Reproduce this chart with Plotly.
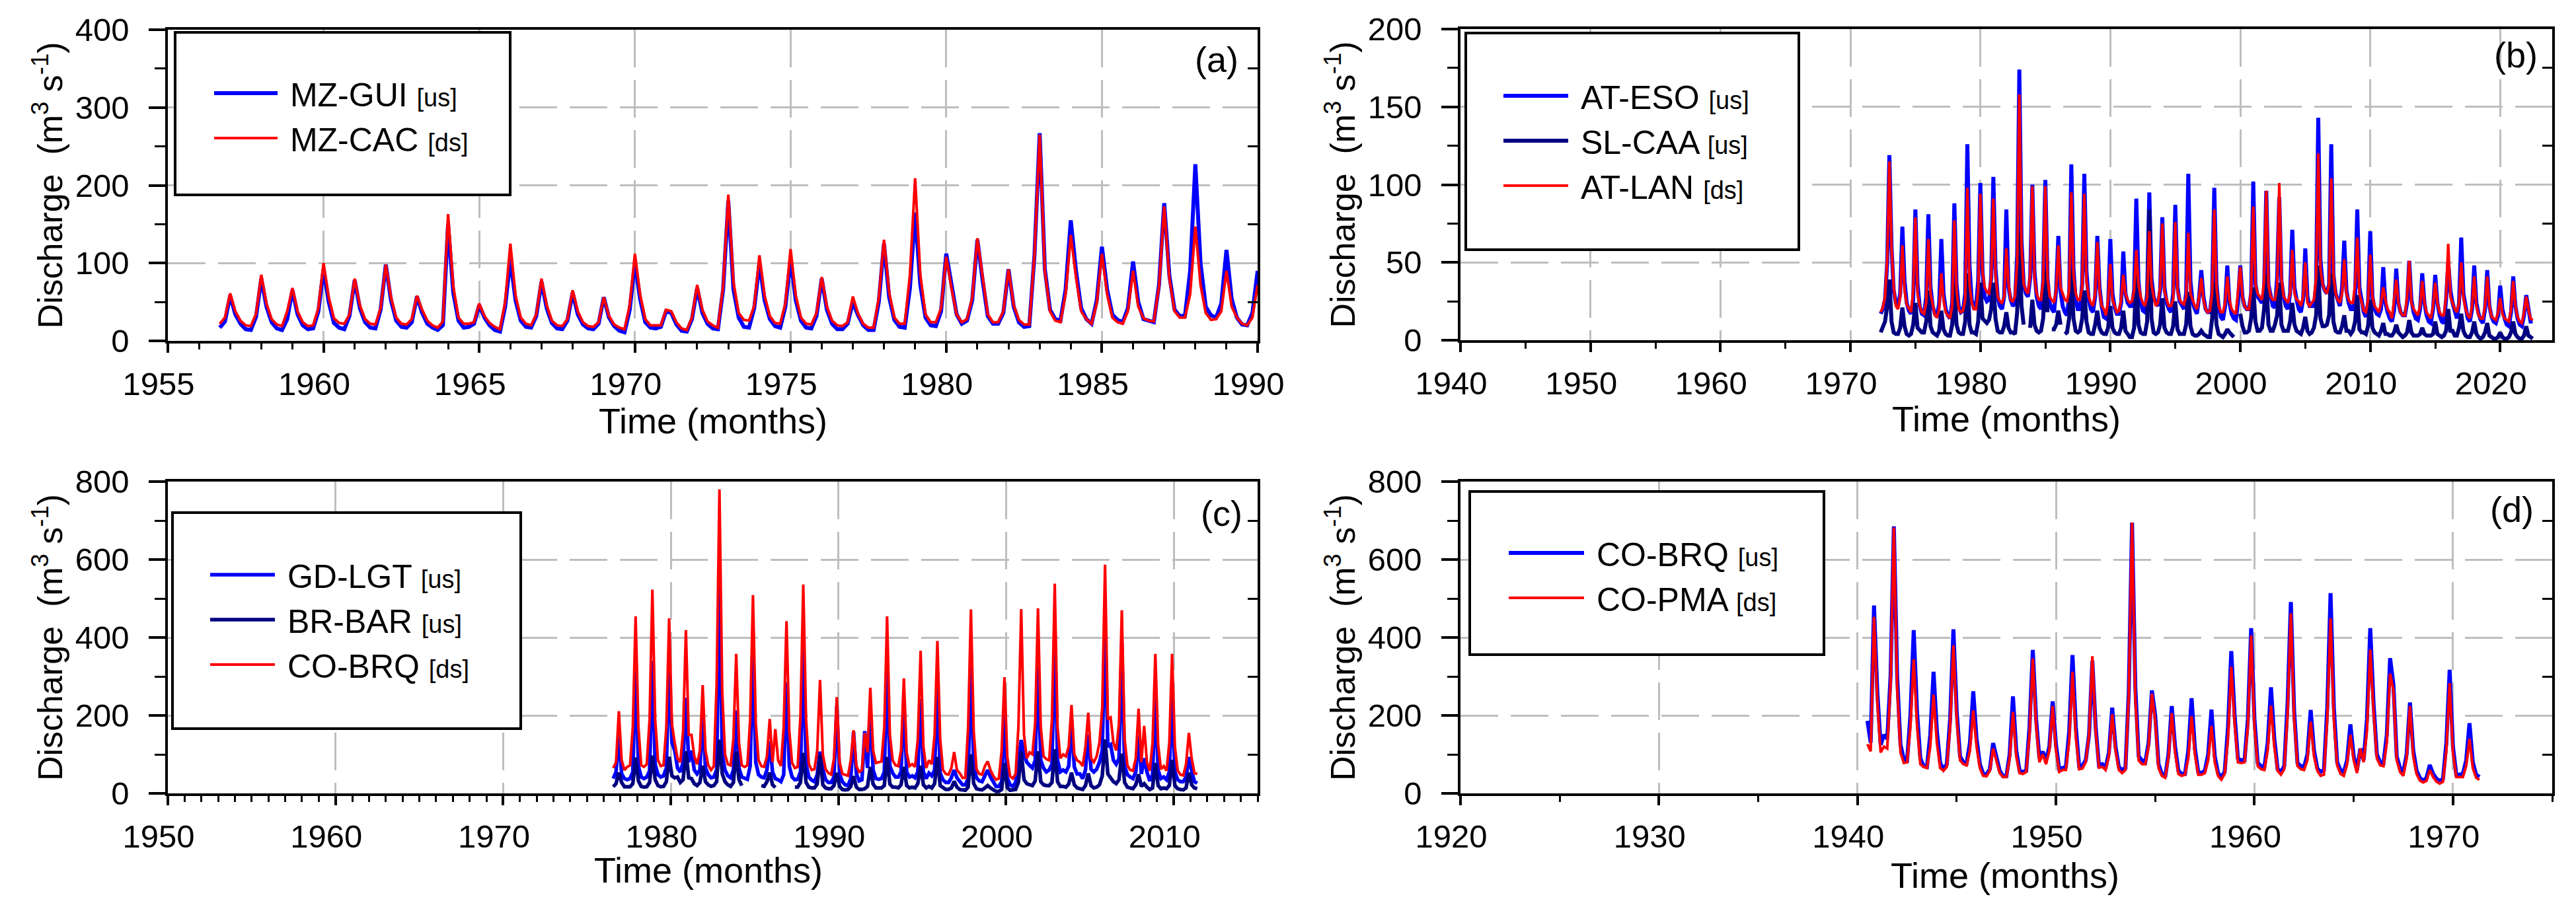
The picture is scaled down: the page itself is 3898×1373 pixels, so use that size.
import plotly.graph_objects as go

W = 3898
H = 1373
FONT = "Liberation Sans"

# Discharge, one value every two months.
# Each row after the first is one year: wet season peak, then +2, +4, +6, +8, +10 months.
mz_start = 1956.667
mz_gui = [17, 25,
    58, 34, 22, 15, 14, 31,
    80, 44, 24, 16, 14, 28,
    65, 34, 20, 15, 16, 38,
    92, 50, 23, 17, 15, 32,
    78, 42, 24, 17, 16, 40,
    98, 52, 26, 18, 17, 24,
    57, 36, 22, 17, 14, 20,
    150, 62, 26, 17, 18, 22,
    46, 30, 20, 14, 12, 44,
    105, 52, 26, 18, 17, 32,
    76, 42, 23, 16, 15, 26,
    62, 34, 21, 16, 15, 22,
    56, 30, 19, 13, 11, 40,
    100, 54, 24, 17, 16, 18,
    38, 36, 21, 13, 12, 28,
    68, 36, 22, 16, 15, 66,
    180, 66, 30, 18, 17, 42,
    100, 52, 28, 19, 17, 44,
    105, 52, 26, 17, 16, 32,
    80, 40, 22, 15, 15, 22,
    50, 33, 20, 14, 14, 50,
    125, 56, 27, 18, 17, 68,
    165, 72, 30, 20, 19, 38,
    112, 70, 34, 22, 26, 52,
    130, 78, 32, 22, 22, 36,
    92, 44, 24, 18, 19, 110,
    267, 92, 40, 28, 26, 66,
    155, 90, 42, 28, 22, 52,
    121, 66, 34, 27, 24, 42,
    102, 50, 28, 26, 24, 72,
    177, 84, 40, 32, 32, 90,
    227, 100, 44, 33, 30, 48,
    117, 54, 30, 21, 20, 36,
    90]
mz_cac = [22, 30,
    61, 38, 26, 20, 19, 35,
    85, 48, 28, 21, 19, 38,
    68, 38, 24, 19, 20, 42,
    100, 56, 29, 23, 22, 34,
    80, 46, 28, 22, 21, 42,
    98, 56, 30, 22, 21, 28,
    58, 40, 26, 20, 17, 25,
    163, 70, 30, 22, 22, 24,
    48, 32, 23, 18, 15, 50,
    125, 58, 30, 22, 20, 34,
    80, 46, 26, 20, 19, 28,
    65, 38, 24, 19, 18, 24,
    56, 32, 21, 17, 15, 46,
    112, 60, 28, 20, 20, 20,
    40, 38, 24, 16, 14, 30,
    72, 40, 25, 20, 17, 70,
    188, 75, 36, 27, 26, 45,
    110, 58, 32, 23, 22, 48,
    118, 58, 30, 22, 21, 36,
    82, 44, 26, 20, 19, 24,
    57, 35, 22, 17, 17, 55,
    130, 62, 30, 22, 22, 85,
    209, 85, 34, 24, 24, 42,
    108, 68, 34, 24, 28, 55,
    132, 80, 34, 24, 24, 38,
    92, 46, 27, 21, 21, 110,
    265, 90, 38, 26, 24, 60,
    136, 82, 38, 28, 22, 48,
    112, 60, 30, 24, 22, 38,
    90, 44, 29, 26, 25, 70,
    173, 80, 38, 30, 30, 60,
    147, 72, 36, 27, 28, 38,
    90, 44, 30, 22, 20, 30,
    72]

at_start = 1972.333
at_eso = [17, 20, 26, 50,
    119, 60, 32, 24, 22, 30,
    73, 38, 24, 19, 17, 26,
    84, 36, 22, 17, 16, 28,
    81, 34, 22, 17, 15, 24,
    65, 30, 20, 16, 14, 24,
    88, 36, 22, 18, 19, 30,
    126, 48, 26, 21, 22, 38,
    101, 44, 28, 25, 26, 40,
    105, 46, 28, 22, 20, 28,
    84, 34, 26, 22, 24, 55,
    174, 64, 36, 30, 28, 40,
    100, 44, 28, 22, 20, 38,
    103, 40, 24, 20, 18, 32,
    67, 32, 22, 18, 16, 28,
    113, 46, 26, 20, 20, 36,
    107, 44, 26, 20, 18, 28,
    67, 34, 22, 15, 14, 22,
    65, 30, 21, 17, 17, 24,
    57, 30, 24, 22, 22, 32,
    91, 38, 24, 19, 18, 30,
    95, 40, 28, 24, 22, 32,
    79, 34, 24, 20, 18, 30,
    87, 34, 25, 22, 20, 30,
    107, 38, 24, 20, 17, 28,
    45, 28, 20, 18, 18, 30,
    98, 36, 22, 15, 13, 22,
    48, 24, 17, 14, 13, 26,
    48, 28, 22, 20, 20, 30,
    102, 36, 28, 26, 24, 32,
    96, 36, 28, 22, 21, 40,
    92, 38, 28, 22, 20, 30,
    71, 34, 26, 20, 18, 26,
    59, 28, 22, 22, 22, 36,
    143, 52, 36, 32, 30, 36,
    126, 42, 30, 26, 22, 34,
    64, 32, 24, 20, 20, 28,
    84, 34, 24, 18, 15, 24,
    70, 28, 20, 17, 16, 20,
    47, 24, 18, 14, 12, 19,
    46, 24, 18, 16, 16, 24,
    51, 26, 18, 14, 13, 20,
    43, 24, 16, 12, 11, 20,
    42, 24, 16, 12, 11, 26,
    50, 32, 24, 18, 14, 24,
    66, 30, 20, 14, 12, 20,
    48, 24, 17, 13, 11, 20,
    45, 22, 15, 12, 11, 16,
    35, 20, 14, 10, 9, 18,
    41, 22, 14, 10, 9, 16,
    29, 18, 12, 12]
sl_caa = [5, 8, 12, 22,
    39, 12, 5, 4, 4, 8,
    21, 9, 4, 3, 4, 10,
    24, 8, 6, 5, 5, 12,
    32, 9, 5, 4, 3, 6,
    19, 7, 4, 3, 3, 10,
    36, 10, 5, 4, 4, 12,
    43, 10, 5, 5, 4, 12,
    37, 14, 12, 11, 13, 20,
    37, 14, 6, 5, 5, 9,
    18, 8, 5, 5, 4, 18,
    69, 22, 10, None, None, 8,
    26, 10, 6, 5, 6, 14,
    45, 18, None, 7, 7, 10,
    19, 10, None, 4, 5, 14,
    45, 14, 6, 5, 6, 14,
    32, 12, 5, 4, 4, 10,
    19, 8, 5, 4, 4, 8,
    22, 8, 5, 4, 4, 8,
    19, 6, 4, 2, 2, 8,
    41, 10, 5, 4, 4, 12,
    84, 14, 5, 4, 5, 10,
    27, 8, 5, 4, 4, 9,
    25, 7, 4, 4, 4, 10,
    31, 9, 4, 3, 3, 4,
    6, 4, 3, 2, 2, 14,
    37, 10, 4, 3, 2, 4,
    7, 5, 3, 2, None, None,
    17, 9, 5, 5, 6, 14,
    34, 12, 6, 6, 8, 20,
    42, 10, 6, 6, 10, 16,
    37, 10, 6, 6, 6, 12,
    24, 10, 6, 5, 4, 8,
    15, 6, 4, 5, 8, 16,
    48, 14, 9, 9, 10, 16,
    43, 12, 6, 5, 5, 9,
    16, 6, 6, 4, 6, 12,
    29, 7, 5, 5, 4, 9,
    26, 8, 5, 4, 3, 6,
    11, 4, 4, 3, 3, 5,
    10, 5, 3, 2, 3, 5,
    13, 5, 3, 3, 3, 4,
    8, 4, 3, 3, 3, 4,
    12, 4, 3, 2, 3, 6,
    20, 6, 6, 3, 3, 8,
    17, 6, 3, 2, 2, 5,
    12, 4, 2, 1, 2, 5,
    11, 3, 2, 1, 1, 2,
    5, 2, 1, 1, 2, 5,
    12, 4, 2, 1, 1, 3,
    9, 3, 2, 1]
at_lan = [18, 21, 28, 52,
    115, 60, 34, 22, 20, 28,
    61, 32, 23, 20, 18, 32,
    79, 30, 22, 18, 17, 24,
    65, 30, 22, 16, 15, 20,
    43, 26, 18, 16, 14, 22,
    77, 32, 20, 18, 19, 26,
    98, 36, 24, 20, 20, 32,
    94, 44, 34, 31, 30, 40,
    91, 42, 28, 25, 24, 28,
    59, 36, 26, 25, 28, 50,
    158, 60, 36, 32, 30, 42,
    99, 40, 30, 26, 26, 38,
    99, 40, 28, 26, 24, 32,
    61, 34, 30, 26, 25, 32,
    95, 42, 30, 26, 26, 34,
    94, 38, 28, 24, 22, 30,
    63, 32, 22, 20, 16, 26,
    49, 26, 22, 18, 19, 26,
    42, 30, 26, 24, 25, 32,
    58, 36, 28, 24, 22, 28,
    70, 36, 28, 22, 24, 34,
    75, 32, 26, 22, 22, 26,
    76, 32, 26, 24, 23, 28,
    69, 30, 26, 22, 20, 28,
    40, 26, 20, 18, 19, 30,
    84, 34, 22, 18, 18, 24,
    41, 26, 20, 18, 17, 34,
    47, 28, 22, 20, 20, 32,
    86, 36, 30, 28, 26, 38,
    96, 36, 28, 26, 26, 34,
    101, 40, 28, 26, 24, 30,
    58, 30, 26, 25, 22, 28,
    50, 24, 22, 24, 26, 40,
    120, 46, 36, 32, 30, 36,
    104, 42, 30, 26, 24, 30,
    52, 30, 26, 24, 24, 36,
    66, 30, 24, 19, 18, 26,
    55, 28, 22, 20, 18, 24,
    34, 26, 20, 18, 14, 26,
    39, 24, 18, 16, 16, 28,
    51, 24, 20, 18, 16, 22,
    38, 24, 18, 16, 14, 22,
    37, 24, 18, 16, 16, 28,
    62, 28, 24, 20, 18, 24,
    50, 28, 20, 16, 14, 22,
    41, 22, 16, 14, 14, 22,
    41, 22, 15, 14, 13, 18,
    27, 17, 14, 13, 12, 20,
    38, 22, 15, 12, 11, 18,
    28, 20, 14, 13]

gd_start = 1976.567
gd_lgt = [38, 55,
    150, 50, 38, 35, 38, 55,
    329, 70, 42, 38, 42, 58,
    340, 75, 48, 42, 45, 65,
    340, 130, 110, 65, 55, 80,
    245, 80, 110, 60, 50, 60,
    205, 65, 48, 40, 42, 60,
    558, 100, 60, 45, 40, 60,
    213, 65, 42, 38, 36, 70,
    362, 80, 48, 42, 40, 60,
    133, 55, 38, 35, 30, 48,
    285, 70, 42, 35, 36, 55,
    376, 75, 42, 34, 30, 48,
    107, 62, 35, 28, 28, 42,
    224, 50, 30, 22, 20, 38,
    158, 50, 32, 35, 160, 65,
    216, 60, 38, 36, 38, 55,
    325, 70, 52, 42, 42, 55,
    238, 55, 42, 45, 40, 55,
    242, 55, 38, 52, 45, 60,
    282, 52, 35, 28, 28, 40,
    60, 40, 32, 22, 22, 38,
    340, 70, 40, 32, 30, 45,
    60, 42, 28, 18, 18, 30,
    202, 40, 22, 18, 28, 75,
    137, 100, 80, 72, 65, 85,
    325, 85, 65, 55, 60, 75,
    413, 85, 55, 60, 55, 70,
    177, 68, 50, 50, 38, 60,
    151, 62, 55, 62, 80, 110,
    435, 120, 125, 85, 75, 90,
    387, 70, 48, 42, 38, 55,
    148, 50, 90, 55, 32, 48,
    245, 60, 38, 42, 35, 55,
    253, 55, 35, 30, 30, 42,
    93, 58, 30, 26]
br_bar = [17, 25,
    53, 28, 17, 16, 17, 25,
    92, 32, 18, 16, 17, 28,
    97, 35, 20, 17, 18, 30,
    94, 45, 40, 42, 28, 35,
    108, 40, 38, 25, 20, 28,
    71, 30, 22, 18, 20, 30,
    138, 50, 30, 22, 18, 28,
    108, 35, 20, None, None, None,
    None, None, None, 20, 18, 30,
    53, 22, 15, None, None, None,
    None, None, None, 16, 16, 28,
    104, 28, 16, 14, 14, 24,
    100, 22, 14, 12, 12, 20,
    53, 18, 10, 9, 10, 18,
    44, 16, 10, 10, 12, 18,
    68, 24, 14, 14, 14, 20,
    93, 24, 16, 16, 14, 22,
    68, 20, 14, 16, 14, 25,
    71, 22, 14, 18, 14, 25,
    93, 20, 14, 10, 10, 14,
    31, 16, 10, 8, 8, 16,
    100, 25, 12, 10, 9, 14,
    20, 14, 9, 5, 5, 10,
    78, 15, 8, 8, 10, 28,
    108, 35, 25, 22, 20, 32,
    108, 30, 22, 20, 20, 28,
    113, 30, 18, 18, 16, 24,
    53, 22, 14, 12, 10, 20,
    51, 20, 14, 16, 22, 45,
    138, 50, 40, 30, 25, 35,
    102, 28, 16, 14, 12, 22,
    49, 18, 25, 16, 10, 14,
    78, 20, 12, 14, 12, 20,
    86, 20, 12, 10, 9, 14,
    53, 22, 14, 12]
co_brq_c = [65, 80,
    211, 85, 60, 68, 72, 170,
    454, 170, 72, 68, 75, 190,
    523, 190, 85, 70, 72, 170,
    449, 177, 130, 90, 80, 160,
    419, 150, 150, 95, 75, 110,
    278, 110, 72, 60, 70, 280,
    780, 260, 100, 75, 72, 140,
    358, 130, 72, 68, 72, 190,
    509, 180, 85, 70, 68, 95,
    191, 80, 165, 85, 70, 170,
    442, 160, 78, 65, 68, 200,
    536, 190, 75, 60, 62, 110,
    291, 100, 62, 52, 48, 90,
    247, 80, 50, 48, 45, 85,
    162, 70, 55, 60, 155, 105,
    271, 110, 78, 80, 82, 170,
    454, 150, 85, 72, 70, 110,
    295, 105, 70, 75, 68, 140,
    366, 120, 65, 85, 75, 150,
    391, 140, 60, 50, 48, 65,
    106, 60, 52, 40, 40, 170,
    472, 160, 62, 50, 48, 70,
    82, 60, 45, 35, 38, 110,
    298, 95, 44, 38, 50, 170,
    473, 150, 90, 105, 100, 180,
    475, 170, 95, 88, 85, 190,
    538, 170, 90, 100, 95, 120,
    227, 100, 85, 80, 70, 120,
    207, 90, 80, 95, 130, 220,
    587, 190, 195, 130, 110, 180,
    470, 140, 72, 60, 58, 90,
    217, 80, 173, 80, 58, 130,
    358, 125, 62, 70, 58, 130,
    358, 120, 58, 48, 46, 75,
    155, 90, 52, 50]

co_start = 1940.5
co_brq_d = [186, 130,
    482, 260, 125, 150, 140, 300,
    685, 300, 125, 88, 85, 200,
    419, 210, 90, 70, 68, 150,
    312, 160, 78, 62, 75, 190,
    421, 210, 95, 80, 78, 130,
    262, 140, 75, 50, 48, 62,
    129, 95, 58, 44, 44, 100,
    249, 110, 58, 55, 58, 170,
    368, 190, 90, 107, 85, 120,
    236, 125, 62, 65, 68, 160,
    355, 170, 70, 72, 85, 150,
    340, 170, 72, 75, 65, 105,
    220, 120, 68, 60, 65, 260,
    695, 270, 95, 85, 80, 130,
    264, 200, 75, 50, 42, 100,
    224, 120, 58, 50, 50, 110,
    244, 115, 55, 52, 58, 100,
    215, 95, 52, 42, 55, 170,
    365, 200, 90, 85, 85, 190,
    424, 190, 78, 70, 68, 130,
    272, 140, 62, 55, 70, 230,
    491, 210, 78, 70, 68, 100,
    214, 110, 64, 55, 60, 220,
    514, 220, 80, 60, 55, 85,
    177, 95, 60, 115, 85, 190,
    424, 230, 100, 80, 78, 150,
    347, 280, 95, 65, 55, 100,
    233, 110, 58, 40, 32, 40,
    73, 50, 38, 32, 38, 130,
    317, 120, 48, 48, 50, 85,
    180, 80, 48, 42]
co_pma = [126, 108,
    453, 235, 105, 120, 115, 280,
    682, 270, 105, 78, 80, 170,
    344, 175, 75, 68, 65, 120,
    253, 130, 65, 58, 68, 170,
    380, 190, 85, 75, 72, 110,
    213, 120, 65, 45, 44, 58,
    115, 85, 52, 42, 42, 90,
    209, 95, 52, 50, 55, 150,
    346, 175, 80, 100, 75, 110,
    224, 110, 55, 60, 60, 135,
    312, 145, 62, 64, 80, 150,
    352, 160, 66, 68, 60, 95,
    203, 110, 60, 52, 60, 250,
    695, 240, 85, 75, 75, 120,
    256, 185, 65, 45, 40, 90,
    206, 105, 50, 45, 48, 90,
    198, 100, 48, 48, 52, 85,
    173, 80, 45, 35, 50, 140,
    325, 180, 80, 78, 80, 170,
    405, 170, 70, 62, 60, 110,
    225, 120, 58, 48, 62, 200,
    462, 190, 70, 62, 60, 85,
    184, 95, 58, 45, 48, 190,
    449, 190, 72, 50, 45, 75,
    150, 85, 52, 115, 80, 160,
    369, 210, 90, 72, 70, 130,
    307, 265, 85, 55, 45, 90,
    224, 95, 50, 33, 28, 32,
    60, 42, 30, 25, 30, 110,
    283, 105, 42, 42, 42, 70,
    140, 65, 40, 35]

BLUE = "#0000ff"
NAVY = "#000080"
RED = "#ff0000"
GRID = "#bebebe"


def label(code, tag):
    # legend text: a gap after the line, the code, then the small [us]/[ds] tag
    return f'\u00a0{code} <span style="font-size:38px">[{tag}]</span>'


# one dict per panel: axis ranges, ticks, box and legend placement in picture pixels
panels = [
    dict(tag="(a)", box=(254, 1903, 45, 516), xr=(1955, 1990), xd=5, xm=1, yr=(0, 400), yd=100, ym=50,
         legend=(265, 772, 49, 295), row=(324, 137), item=96, lab=(1841, 90), xtitle=(1079, 637),
         series=[(mz_start, mz_gui, "MZ-GUI", "us", BLUE, 6), (mz_start, mz_cac, "MZ-CAC", "ds", RED, 4)]),
    dict(tag="(b)", box=(2210, 3862, 44, 515), xr=(1940, 2024), xd=10, xm=5, yr=(0, 200), yd=50, ym=25,
         legend=(2218, 2722, 50, 378), row=(2275, 141), item=98, lab=(3807, 83), xtitle=(3036, 634),
         series=[(at_start, at_eso, "AT-ESO", "us", BLUE, 6), (at_start, sl_caa, "SL-CAA", "us", NAVY, 6),
                 (at_start, at_lan, "AT-LAN", "ds", RED, 4)]),
    dict(tag="(c)", box=(254, 1903, 729, 1201), xr=(1950, 2015), xd=10, xm=1, yr=(0, 800), yd=200, ym=100,
         legend=(261, 788, 776, 1103), row=(318, 866), item=98, lab=(1848, 777), xtitle=(1072, 1317),
         series=[(gd_start, gd_lgt, "GD-LGT", "us", BLUE, 5.5), (gd_start, br_bar, "BR-BAR", "us", NAVY, 5.5),
                 (gd_start, co_brq_c, "CO-BRQ", "ds", RED, 4)]),
    dict(tag="(d)", box=(2210, 3862, 729, 1201), xr=(1920, 1975), xd=10, xm=5, yr=(0, 800), yd=200, ym=100,
         legend=(2224, 2760, 744, 991), row=(2283, 833), item=114, lab=(3801, 771), xtitle=(3034, 1325),
         series=[(co_start, co_brq_d, "CO-BRQ", "us", BLUE, 6), (co_start, co_pma, "CO-PMA", "ds", RED, 4)]),
]

fig = go.Figure()
layout = dict(
    width=W, height=H,
    margin=dict(l=0, r=0, t=0, b=0),
    paper_bgcolor="white", plot_bgcolor="white",
    font=dict(family=FONT, size=49, color="black"),
)
shapes = []
annotations = []

for i, p in enumerate(panels):
    n = i + 1
    xname = "xaxis" if n == 1 else f"xaxis{n}"
    yname = "yaxis" if n == 1 else f"yaxis{n}"
    xref = "x" if n == 1 else f"x{n}"
    yref = "y" if n == 1 else f"y{n}"
    legname = "legend" if n == 1 else f"legend{n}"
    x0, x1, y0, y1 = p["box"]

    for start, values, code, tag, colour, width in p["series"]:
        fig.add_trace(go.Scatter(
            x=[start + k / 6 for k in range(len(values))], y=values,
            mode="lines", name=label(code, tag), legend=legname,
            line=dict(color=colour, width=width),
            xaxis=xref, yaxis=yref,
        ))

    layout[xname] = dict(
        domain=[x0 / W, x1 / W], anchor=yref, range=list(p["xr"]), dtick=p["xd"], tick0=1900,
        automargin=False,
        ticks="outside", ticklen=14, tickwidth=3.5, tickcolor="black",
        minor=dict(dtick=p["xm"], ticks="outside", ticklen=9, tickwidth=2.5, tickcolor="black", showgrid=False),
        showline=True, linecolor="black", linewidth=3.5, mirror=True,
        showgrid=True, gridcolor=GRID, gridwidth=3.2, griddash="57px,19px",
        zeroline=False, ticklabelstandoff=5, ticklabelshift=-14,
        tickfont=dict(family=FONT, size=49),
    )
    layout[yname] = dict(
        domain=[1 - y1 / H, 1 - y0 / H], anchor=xref, range=list(p["yr"]), dtick=p["yd"], tick0=0,
        automargin=False,
        ticks="outside", ticklen=25, tickwidth=4, tickcolor="black",
        minor=dict(dtick=p["ym"], ticks="outside", ticklen=16, tickwidth=2.5, tickcolor="black", showgrid=False),
        showline=True, linecolor="black", linewidth=3.5, mirror=True,
        showgrid=True, gridcolor=GRID, gridwidth=3.2, griddash="57px,19px",
        zeroline=False, ticklabelstandoff=20,
        tickfont=dict(family=FONT, size=49),
        title=dict(text="Discharge  (m<sup>3</sup> s<sup>-1</sup>)", font=dict(family=FONT, size=52), standoff=3),
    )

    # right side only carries the minor ticks, pointing inwards
    right = f"y{n + 4}"
    layout[f"yaxis{n + 4}"] = dict(
        overlaying=yref, side="right", anchor=xref, range=list(p["yr"]),
        automargin=False,
        tickmode="array",
        tickvals=[p["ym"] + k * p["yd"] for k in range(int(p["yr"][1] / p["yd"]))],
        ticks="inside", ticklen=15, tickwidth=2.5, tickcolor="black",
        showticklabels=False, showgrid=False, zeroline=False, showline=False,
    )
    fig.add_trace(go.Scatter(x=[None], y=[None], xaxis=xref, yaxis=right, showlegend=False, hoverinfo="skip"))

    # white legend panel with black frame, real legend sits on top of it
    lx0, lx1, ly0, ly1 = p["legend"]
    shapes.append(dict(
        type="rect", xref="paper", yref="paper", layer="above",
        x0=lx0 / W, x1=lx1 / W, y0=1 - ly1 / H, y1=1 - ly0 / H,
        fillcolor="white", line=dict(color="black", width=4),
    ))
    rx, ry = p["row"]
    layout[legname] = dict(
        x=(rx - 5) / W, y=1 - (ry - 35) / H, xanchor="left", yanchor="top",
        bgcolor="rgba(0,0,0,0)", borderwidth=0, itemwidth=p["item"], traceorder="normal",
        font=dict(family=FONT, size=50),
    )

    lx, ly = p["lab"]
    annotations.append(dict(
        text=p["tag"], xref="paper", yref="paper", x=lx / W, y=1 - ly / H,
        xanchor="center", yanchor="middle", showarrow=False, font=dict(family=FONT, size=54),
    ))
    tx, ty = p["xtitle"]
    annotations.append(dict(
        text="Time (months)", xref="paper", yref="paper", x=tx / W, y=1 - ty / H,
        xanchor="center", yanchor="middle", showarrow=False, font=dict(family=FONT, size=54),
    ))

layout["shapes"] = shapes
layout["annotations"] = annotations
fig.update_layout(**layout)

# the page's default body margin would push everything 8px off
fig.write_html("out.html", config={"displayModeBar": False}, post_script="document.body.style.margin='0';")
